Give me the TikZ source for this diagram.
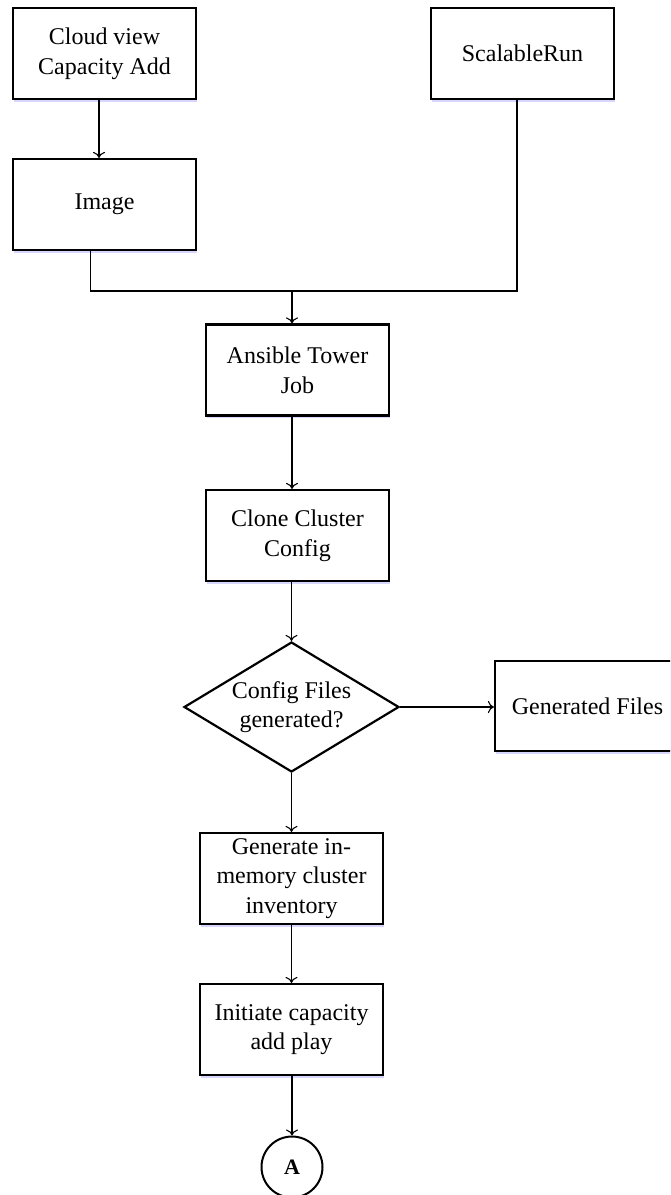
\documentclass[tikz,border=0pt]{standalone}
\usepackage{fontspec}
\setmainfont{Liberation Serif}
\usetikzlibrary{shapes.geometric,shadows,arrows.meta}

\tikzset{
  box/.style={draw, line width=2.2pt, rectangle, minimum width=183pt, minimum height=91pt,
    align=center, inner sep=0pt, fill=white,
    drop shadow={fill=blue!40!white, opacity=0.4, shadow xshift=0.6pt, shadow yshift=-2.5pt}},
  decision/.style={draw, line width=2.2pt, diamond, minimum width=215pt, minimum height=130pt,
    inner sep=0pt, fill=white},
  connector/.style={draw, line width=2pt, circle, minimum size=61pt, inner sep=0pt,
    font=\fontsize{22}{26}\selectfont\bfseries},
  wire/.style={line width=1.1pt},
  arr/.style={line width=1.1pt, -{To[length=6pt,width=12pt]}},
  lbl/.style={align=center, inner sep=0pt, font=\fontsize{24}{29.7}\selectfont}
}

\begin{document}
\begin{tikzpicture}[x=1pt, y=-1pt, every node/.append style={font=\fontsize{24}{29.7}\selectfont}]
  \clip (0,0) rectangle (670,1195);
  \fill[white] (0,0) rectangle (670,1195);

  % process boxes
  \node[box] (cloud) at (104.5,53.5) {Cloud view\\Capacity Add};
  \node[box] (scal)  at (522.5,53.5) {ScalableRun};
  \node[box] (image) at (104.5,204.5) {Image};
  \node[box] (tower) at (297.5,370) {Ansible Tower\\Job};
  \node[box] (clone) at (297.5,535.5) {Clone Cluster\\Config};
  \node[decision] (dec) at (291.5,707) {};
  \node[lbl] (dectext) at (dec.center) {Config Files\\generated?};
  \node[box, minimum width=185pt, minimum height=90pt] (gen) at (587.5,706) {Generated Files};
  \node[box] (inv)   at (291.5,878.5) {Generate in-\\memory cluster\\inventory};
  \node[box] (play)  at (291.5,1029.5) {Initiate capacity\\add play};
  \node[connector] (A) at (292,1167) {A};

  % junction where the two sources merge
  \coordinate (jn) at (292,291);

  % connectors
  \draw[arr] ([xshift=-5.5pt]cloud.south) -- ([xshift=-5.5pt]image.north);
  \draw[wire] ([xshift=-14pt]image.south) |- (jn);
  \draw[wire] ([xshift=-5.5pt]scal.south) |- (jn);
  \draw[arr] (jn) -- (tower.north -| jn);
  \draw[arr] (tower.south -| jn) -- (clone.north -| jn);
  \draw[arr] (clone.south -| dec.north) -- (dec.north);
  \draw[arr] (dec.east) -- (gen.west |- dec.east);
  \draw[arr] (dec.south) -- (inv.north);
  \draw[arr] (inv.south) -- (play.north);
  \draw[arr] (play.south -| A.north) -- (A.north);
\end{tikzpicture}
\end{document}
